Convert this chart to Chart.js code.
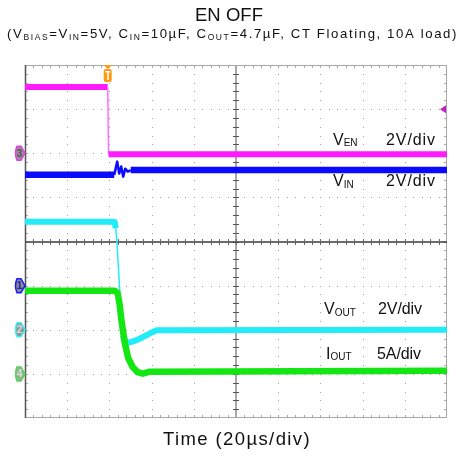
<!DOCTYPE html>
<html>
<head>
<meta charset="utf-8">
<script src="https://cdn.jsdelivr.net/npm/chart.js@4.4.0/dist/chart.umd.min.js"></script>
<style>
  html, body { margin: 0; padding: 0; background: #fff; }
  canvas { display: block; }
</style>
</head>
<body>
<canvas id="scope" width="462" height="457"></canvas>
<script>
// time axis in us, trigger at 0, 20us/div over 10 div
const timeRange = [-40, 160]

// EN (2V/div)
const tVen = [-40, -0.8, -0.4, 160]
const ven = [3.0, 3.0, -0.05, -0.05]

// VIN (2V/div)
const tVin = [-40, 2.3, 3.7, 4.65, 5.6, 6.55, 7.5, 8.7, 10.1, 160]
const vin = [5.02, 5.02, 5.62, 5.08, 5.40, 4.94, 5.30, 5.17, 5.24, 5.24]

// VOUT (2V/div)
const tVout = [-40, 2.5, 3.0, 3.5, 4.9, 6.3, 8.0, 10.5, 13.5, 16.5, 19.5, 22.5, 160]
const vout = [4.89, 4.89, 4.6, 4.08, 1.8, -0.24, -0.6, -0.55, -0.45, -0.3, -0.15, -0.02, 0]

// IOUT (5A/div)
const tIout = [-40, 2.5, 3.9, 4.9, 5.8, 7.3, 8.9, 11.1, 13.4, 15.8, 19.1, 160]
const iout = [9.43, 9.43, 9.17, 7.8, 5.9, 3.5, 1.8, 0.76, 0.2, 0.02, 0.25, 0.35]

// per channel axis ranges (ground marker offsets)
const venRange = [-12, 4]
const vinRange = [-6, 10]
const voutRange = [-4, 12]
const ioutRange = [-5, 35]

const toPoints = (xs, ys) => xs.map((x, i) => ({ x: x, y: ys[i] }))

// steep edges are drawn thin like on the scope
const edgeWidth = ctx => {
  const dx = Math.abs(ctx.p1.x - ctx.p0.x)
  const dy = Math.abs(ctx.p1.y - ctx.p0.y)
  return dy > 4 * dx + 4 ? 1.5 : undefined
}
const ringWidth = ctx => {
  const dx = Math.abs(ctx.p1.x - ctx.p0.x)
  return dx < 4 ? 2.5 : undefined
}

function drawRich(ctx, parts, x, base, size, subSize, opts) {
  opts = opts || {}
  const fam = 'Arial, "Liberation Sans", sans-serif'
  let spacing = opts.spacing || 0
  const measure = () => {
    let w = 0
    parts.forEach(p => {
      ctx.font = (p[1] ? subSize : size) + 'px ' + fam
      w += ctx.measureText(p[0]).width
    })
    return w
  }
  if (opts.right !== undefined) {
    let n = 0
    parts.forEach(p => n += p[0].length)
    spacing = (opts.right - x - measure()) / n
  }
  ctx.letterSpacing = spacing + 'px'
  let cx = x
  parts.forEach(p => {
    ctx.font = (p[1] ? subSize : size) + 'px ' + fam
    ctx.fillText(p[0], cx, p[1] ? base + 1.5 : base)
    cx += ctx.measureText(p[0]).width
  })
  ctx.letterSpacing = '0px'
}

function chMarker(ctx, x, y, num, edge, fill, txt) {
  ctx.beginPath()
  ctx.moveTo(x - 8, y - 7)
  ctx.lineTo(x - 4, y - 7)
  ctx.lineTo(x, y)
  ctx.lineTo(x - 4, y + 7)
  ctx.lineTo(x - 8, y + 7)
  ctx.quadraticCurveTo(x - 11, y, x - 8, y - 7)
  ctx.closePath()
  ctx.fillStyle = fill
  ctx.fill()
  ctx.strokeStyle = edge
  ctx.lineWidth = 1.5
  ctx.stroke()
  ctx.fillStyle = txt
  ctx.font = 'bold 10px Arial, "Liberation Sans", sans-serif'
  ctx.textAlign = 'center'
  ctx.textBaseline = 'middle'
  ctx.fillText(num, x - 5.5, y + 0.5)
  ctx.textAlign = 'left'
  ctx.textBaseline = 'alphabetic'
}

const scopeGrid = {
  id: 'scopeGrid',
  beforeDatasetsDraw(chart) {
    const { ctx, chartArea: a } = chart
    const dx = (a.right - a.left) / 10
    const dy = (a.bottom - a.top) / 8
    ctx.save()
    ctx.fillStyle = '#a0a0a0'
    for (let i = 1; i < 10; i++) {
      if (i === 5) continue
      const x = Math.round(a.left + i * dx)
      for (let k = 1; k < 40; k++) ctx.fillRect(x, Math.round(a.top + k * dy / 5), 1, 1)
    }
    for (let j = 1; j < 8; j++) {
      if (j === 4) continue
      const y = Math.round(a.top + j * dy)
      for (let k = 1; k < 50; k++) ctx.fillRect(Math.round(a.left + k * dx / 5), y, 1, 1)
    }
    // frame
    ctx.strokeStyle = '#a8a8a8'
    ctx.lineWidth = 1
    ctx.beginPath()
    ctx.moveTo(a.left, a.top + 0.5); ctx.lineTo(a.right, a.top + 0.5)
    ctx.moveTo(a.right - 0.5, a.top); ctx.lineTo(a.right - 0.5, a.bottom)
    ctx.moveTo(a.left, a.bottom - 0.5); ctx.lineTo(a.right, a.bottom - 0.5)
    for (let k = 1; k < 50; k++) {
      const x = Math.round(a.left + k * dx / 5) + 0.5
      ctx.moveTo(x, a.top); ctx.lineTo(x, a.top + 3)
      ctx.moveTo(x, a.bottom); ctx.lineTo(x, a.bottom - 3)
    }
    for (let k = 1; k < 40; k++) {
      const y = Math.round(a.top + k * dy / 5) + 0.5
      ctx.moveTo(a.right, y); ctx.lineTo(a.right - 3, y)
      ctx.moveTo(a.left, y); ctx.lineTo(a.left + 3, y)
    }
    ctx.stroke()
    // center cross
    const cx = Math.round(a.left + 5 * dx)
    const cy = Math.round(a.top + 4 * dy)
    ctx.strokeStyle = '#a8a8a8'
    ctx.lineWidth = 2
    ctx.beginPath()
    ctx.moveTo(cx, a.top); ctx.lineTo(cx, a.bottom)
    ctx.stroke()
    ctx.strokeStyle = '#555'
    ctx.lineWidth = 1
    ctx.beginPath()
    for (let k = 1; k < 40; k++) {
      const y = Math.round(a.top + k * dy / 5) + 0.5
      ctx.moveTo(cx - 3, y); ctx.lineTo(cx + 3, y)
    }
    ctx.stroke()
    ctx.strokeStyle = '#3a3a3a'
    ctx.lineWidth = 1.5
    ctx.beginPath()
    ctx.moveTo(a.left, cy); ctx.lineTo(a.right, cy)
    ctx.stroke()
    ctx.strokeStyle = '#666'
    ctx.lineWidth = 1
    ctx.beginPath()
    for (let k = 1; k < 50; k++) {
      const x = Math.round(a.left + k * dx / 5) + 0.5
      ctx.moveTo(x, cy - 3); ctx.lineTo(x, cy + 3)
    }
    ctx.stroke()
    // left edge
    ctx.strokeStyle = '#555'
    ctx.lineWidth = 1.5
    ctx.beginPath()
    ctx.moveTo(a.left + 0.5, a.top); ctx.lineTo(a.left + 0.5, a.bottom)
    ctx.stroke()
    ctx.restore()
  },
  afterDatasetsDraw(chart) {
    const { ctx, chartArea: a, scales } = chart
    ctx.save()
    chMarker(ctx, a.left, scales.yVen.getPixelForValue(0), '3', '#e040e0', '#a08aa0', '#555')
    chMarker(ctx, a.left, scales.yVin.getPixelForValue(0), '1', '#1a1aff', '#8a8a8a', '#2020c0')
    chMarker(ctx, a.left, scales.yVout.getPixelForValue(0), '2', '#40f0f0', '#8a9a9a', '#ddd')
    chMarker(ctx, a.left, scales.yIout.getPixelForValue(0), '4', '#60d060', '#88b888', '#ddd')
    // trigger position marker
    const tx = scales.x.getPixelForValue(-0.8)
    ctx.fillStyle = '#ff9a10'
    ctx.beginPath()
    ctx.moveTo(tx - 4, a.top); ctx.lineTo(tx + 4, a.top); ctx.lineTo(tx, a.top + 4)
    ctx.closePath()
    ctx.fill()
    ctx.beginPath()
    ctx.roundRect(tx - 4, a.top + 4, 8, 13, 2)
    ctx.fill()
    ctx.fillStyle = '#fff'
    ctx.fillRect(tx - 2.5, a.top + 6, 5, 1.5)
    ctx.fillRect(tx - 0.5, a.top + 6, 1.5, 9)
    // trigger level arrow
    const ty = scales.yVen.getPixelForValue(2.0)
    ctx.fillStyle = '#c020c0'
    ctx.beginPath()
    ctx.moveTo(a.right - 7, ty); ctx.lineTo(a.right - 1, ty - 4); ctx.lineTo(a.right - 1, ty + 4)
    ctx.closePath()
    ctx.fill()
    ctx.restore()
  },
  afterDraw(chart) {
    const { ctx } = chart
    ctx.save()
    ctx.fillStyle = '#111'
    drawRich(ctx, [['EN OFF', 0]], 195, 20.5, 18.5, 12, { right: 263 })
    drawRich(ctx, [
      ['(V', 0], ['BIAS', 1], ['=V', 0], ['IN', 1], ['=5V, C', 0], ['IN', 1],
      ['=10\u00b5F, C', 0], ['OUT', 1], ['=4.7\u00b5F, CT Floating, 10A load)', 0]
    ], 7, 38, 13.2, 8.5, { right: 458 })
    drawRich(ctx, [['Time (20\u00b5s/div)', 0]], 163, 445, 18.5, 12, { right: 311 })
    // channel labels
    drawRich(ctx, [['V', 0], ['EN', 1]], 333, 144.5, 16, 10, { spacing: 0 })
    drawRich(ctx, [['2V/div', 0]], 386, 144.5, 16, 10, { right: 436 })
    drawRich(ctx, [['V', 0], ['IN', 1]], 333, 186, 16, 10, { spacing: 0 })
    drawRich(ctx, [['2V/div', 0]], 386, 186, 16, 10, { right: 436 })
    drawRich(ctx, [['V', 0], ['OUT', 1]], 324, 314, 16, 10, { spacing: 0 })
    drawRich(ctx, [['2V/div', 0]], 378, 314, 16, 10, { right: 422 })
    drawRich(ctx, [['I', 0], ['OUT', 1]], 326, 358.5, 16, 10, { spacing: 0 })
    drawRich(ctx, [['5A/div', 0]], 377, 358.5, 16, 10, { right: 421 })
    ctx.restore()
  }
}

const scopeData = {
  datasets: [{
    label: 'VEN',
    data: toPoints(tVen, ven),
    yAxisID: 'yVen',
    borderColor: '#ff1aff',
    borderWidth: 6,
    order: 3,
    segment: {
      borderWidth: edgeWidth,
      borderColor: ctx => edgeWidth(ctx) ? '#ff70ff' : undefined
    }
  },
  {
    label: 'VIN',
    data: toPoints(tVin, vin),
    yAxisID: 'yVin',
    borderColor: '#0a0aff',
    borderWidth: 6.5,
    order: 2,
    segment: {
      borderWidth: ringWidth
    }
  },
  {
    label: 'VOUT',
    data: toPoints(tVout, vout),
    yAxisID: 'yVout',
    borderColor: '#22ecf8',
    borderWidth: 6,
    order: 1,
    segment: {
      borderWidth: edgeWidth
    }
  },
  {
    label: 'IOUT',
    data: toPoints(tIout, iout),
    yAxisID: 'yIout',
    borderColor: '#14e614',
    borderWidth: 6.5,
    order: 0
  }]
}

const hiddenAxis = (r) => ({ type: 'linear', min: r[0], max: r[1], display: false })

const scopeConfig = {
  type: 'line',
  data: scopeData,
  options: {
    responsive: false,
    animation: false,
    devicePixelRatio: 1,
    layout: {
      padding: { left: 25, right: 15, top: 65, bottom: 39 }
    },
    elements: {
      point: { radius: 0 },
      line: { tension: 0, borderJoinStyle: 'round' }
    },
    scales: {
      x: { type: 'linear', min: timeRange[0], max: timeRange[1], display: false },
      yVen: hiddenAxis(venRange),
      yVin: hiddenAxis(vinRange),
      yVout: hiddenAxis(voutRange),
      yIout: hiddenAxis(ioutRange)
    },
    plugins: {
      legend: { display: false },
      tooltip: { enabled: false }
    }
  },
  plugins: [scopeGrid]
}

const chartScope = new Chart(document.getElementById('scope').getContext('2d'), scopeConfig)
</script>
</body>
</html>
